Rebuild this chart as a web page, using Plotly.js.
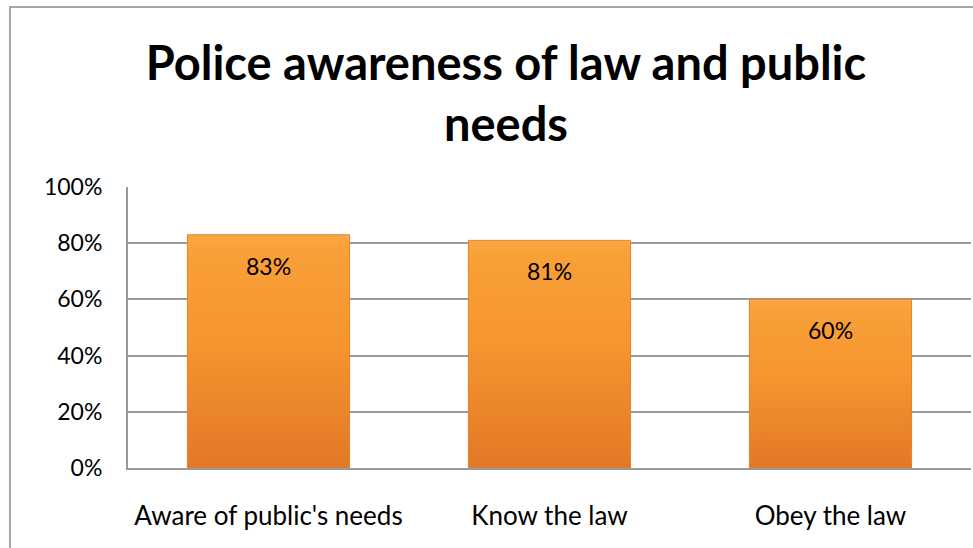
<!DOCTYPE html>
<html>
<head>
<meta charset="utf-8">
<script src="https://cdn.plot.ly/plotly-3.0.1.min.js"></script>
<style>
  html, body { margin: 0; padding: 0; background: #fff; overflow: hidden; }
  #wrap { position: relative; width: 973px; height: 548px; }
  #chart { width: 973px; height: 548px; }
  #frame { position: absolute; left: 9px; top: 6px; width: 1000px; height: 600px;
           border: 2px solid #a6a6a6; box-sizing: border-box; pointer-events: none; }
</style>
</head>
<body>
<div id="wrap">
  <div id="chart"></div>
  <div id="frame"></div>
</div>
<script>
const categories = ["Aware of public's needs", "Know the law", "Obey the law"];
const shares = [0.83, 0.81, 0.60];
const valueLabels = ["83%", "81%", "60%"];
const yTickValues = [0, 0.2, 0.4, 0.6, 0.8, 1.0];
const yTickLabels = ["0%", "20%", "40%", "60%", "80%", "100%"];
const chartTitle = "Police awareness of law and public<br>needs";

const FONT = "Lato, 'Open Sans', sans-serif";

const trace = {
  type: 'bar',
  x: categories,
  y: shares,
  width: 0.577,
  marker: { color: '#F5912F', line: { color: '#E4822B', width: 1 } },
  hoverinfo: 'none'
};

const annotations = categories.map((c, i) => ({
  x: c, y: shares[i], xref: 'x', yref: 'y',
  text: valueLabels[i], showarrow: false,
  yanchor: 'middle', yshift: -31,
  font: { family: FONT, size: 23, color: '#000' }
}));

const layout = {
  width: 973, height: 548,
  margin: { l: 128, r: 2, t: 187, b: 80 },
  paper_bgcolor: '#fff', plot_bgcolor: '#fff',
  showlegend: false,
  title: {
    text: chartTitle,
    font: { family: FONT, size: 47, color: '#000', weight: 'bold' },
    xref: 'container', x: 0.52, xanchor: 'center',
    yref: 'container', y: 1 - 80 / 548, yanchor: 'top'
  },
  xaxis: {
    showgrid: false, zeroline: false,
    showline: true, linecolor: '#9a9a9a', linewidth: 2,
    ticks: '', ticklabelstandoff: 24,
    tickfont: { family: FONT, size: 26, color: '#000' }
  },
  yaxis: {
    range: [0, 1], tickvals: yTickValues, ticktext: yTickLabels,
    showgrid: true, gridcolor: '#9a9a9a', gridwidth: 2,
    zeroline: false,
    showline: true, linecolor: '#9a9a9a', linewidth: 2,
    ticks: '', ticklabelstandoff: 19,
    tickfont: { family: FONT, size: 23, color: '#000' }
  },
  annotations: annotations
};

Plotly.newPlot('chart', [trace], layout, { displayModeBar: false, staticPlot: true }).then(gd => {
  const svg = gd.querySelector('svg.main-svg');
  const NS = 'http://www.w3.org/2000/svg';
  let defs = svg.querySelector('defs');
  if (!defs) { defs = document.createElementNS(NS, 'defs'); svg.insertBefore(defs, svg.firstChild); }
  const g = document.createElementNS(NS, 'linearGradient');
  g.setAttribute('id', 'barGrad');
  g.setAttribute('x1', '0'); g.setAttribute('y1', '0');
  g.setAttribute('x2', '0'); g.setAttribute('y2', '1');
  [['0', '#FCA846'], ['0.06', '#F9A038'], ['0.45', '#F7952F'], ['1', '#E27827']].forEach(([o, c]) => {
    const s = document.createElementNS(NS, 'stop');
    s.setAttribute('offset', o); s.setAttribute('stop-color', c);
    g.appendChild(s);
  });
  defs.appendChild(g);
  gd.querySelectorAll('.bars .point path').forEach(p => { p.style.fill = 'url(#barGrad)'; });
});
</script>
</body>
</html>
